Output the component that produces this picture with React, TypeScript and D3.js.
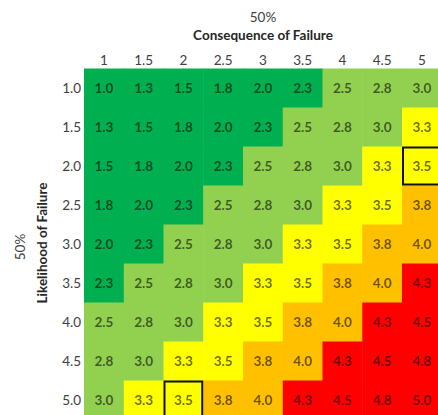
import React from "react";
import * as d3 from "d3";

const consequence = ["1", "1.5", "2", "2.5", "3", "3.5", "4", "4.5", "5"];
const likelihood = ["1.0", "1.5", "2.0", "2.5", "3.0", "3.5", "4.0", "4.5", "5.0"];

// one row per likelihood level
const scores = [
  ["1.0", "1.3", "1.5", "1.8", "2.0", "2.3", "2.5", "2.8", "3.0"],
  ["1.3", "1.5", "1.8", "2.0", "2.3", "2.5", "2.8", "3.0", "3.3"],
  ["1.5", "1.8", "2.0", "2.3", "2.5", "2.8", "3.0", "3.3", "3.5"],
  ["1.8", "2.0", "2.3", "2.5", "2.8", "3.0", "3.3", "3.5", "3.8"],
  ["2.0", "2.3", "2.5", "2.8", "3.0", "3.3", "3.5", "3.8", "4.0"],
  ["2.3", "2.5", "2.8", "3.0", "3.3", "3.5", "3.8", "4.0", "4.3"],
  ["2.5", "2.8", "3.0", "3.3", "3.5", "3.8", "4.0", "4.3", "4.5"],
  ["2.8", "3.0", "3.3", "3.5", "3.8", "4.0", "4.3", "4.5", "4.8"],
  ["3.0", "3.3", "3.5", "3.8", "4.0", "4.3", "4.5", "4.8", "5.0"],
];

// outlined cells: [likelihood, consequence]
const highlighted = [
  ["2.0", "5"],
  ["5.0", "2"],
];

const bandLimits = [2.4, 3.1, 3.7, 4.2];
const bandColors = ["#00b050", "#92d050", "#ffff00", "#ffc000", "#ff0000"];

const W = 438;
const H = 415;
const font = "Lato, 'Open Sans', sans-serif";

export default function App() {
  const x = d3.scaleBand<string>().domain(consequence).range([84, 84 + 9 * 39.75]);
  const y = d3.scaleBand<string>().domain(likelihood).range([68.5, 68.5 + 9 * 39]);
  const color = d3.scaleThreshold<number, string>().domain(bandLimits).range(bandColors);

  const cells = scores.flatMap((row, i) =>
    row.map((v, j) => ({ l: likelihood[i], c: consequence[j], v }))
  );

  return (
    <svg
      width={W}
      height={H}
      style={{ position: "absolute", left: 0, top: 0, background: "#fff" }}
      fontFamily={font}
    >
      <g>
        {cells.map((d) => (
          <rect
            key={`r${d.l}-${d.c}`}
            x={x(d.c)}
            y={y(d.l)}
            width={x.bandwidth() + 0.5}
            height={y.bandwidth() + 0.5}
            fill={color(+d.v)}
          />
        ))}
        {cells.map((d) => (
          <text
            key={`t${d.l}-${d.c}`}
            x={(x(d.c) || 0) + x.bandwidth() / 2}
            y={(y(d.l) || 0) + y.bandwidth() / 2}
            textAnchor="middle"
            dominantBaseline="central"
            fontSize={13.5}
            fontWeight={700}
            fill="#000"
            fillOpacity={0.58}
          >
            {d.v}
          </text>
        ))}
        {highlighted.map(([l, c]) => (
          <rect
            key={`h${l}-${c}`}
            x={(x(c) || 0) + 1}
            y={(y(l) || 0) + 1}
            width={x.bandwidth() - 2}
            height={y.bandwidth() - 2}
            fill="none"
            stroke="#111"
            strokeWidth={2}
          />
        ))}
      </g>

      {consequence.map((c) => (
        <text
          key={`cx${c}`}
          x={(x(c) || 0) + x.bandwidth() / 2}
          y={60}
          textAnchor="middle"
          dominantBaseline="central"
          fontSize={13.5}
          fill="#404040"
        >
          {c}
        </text>
      ))}
      {likelihood.map((l) => (
        <text
          key={`ly${l}`}
          x={81}
          y={(y(l) || 0) + y.bandwidth() / 2}
          textAnchor="end"
          dominantBaseline="central"
          fontSize={13.5}
          fill="#404040"
        >
          {l}
        </text>
      ))}

      <text x={263} y={17} textAnchor="middle" dominantBaseline="central" fontSize={13.5} fill="#404040">
        50%
      </text>
      <text x={263} y={35} textAnchor="middle" dominantBaseline="central" fontSize={13.5} fontWeight={700} fill="#262626">
        Consequence of Failure
      </text>

      <text
        transform={`translate(42,243) rotate(-90)`}
        textAnchor="middle"
        dominantBaseline="central"
        fontSize={13.5}
        fontWeight={700}
        fill="#262626"
      >
        Likelihood of Failure
      </text>
      <text
        transform={`translate(20,247) rotate(-90)`}
        textAnchor="middle"
        dominantBaseline="central"
        fontSize={13.5}
        fill="#404040"
      >
        50%
      </text>
    </svg>
  );
}
